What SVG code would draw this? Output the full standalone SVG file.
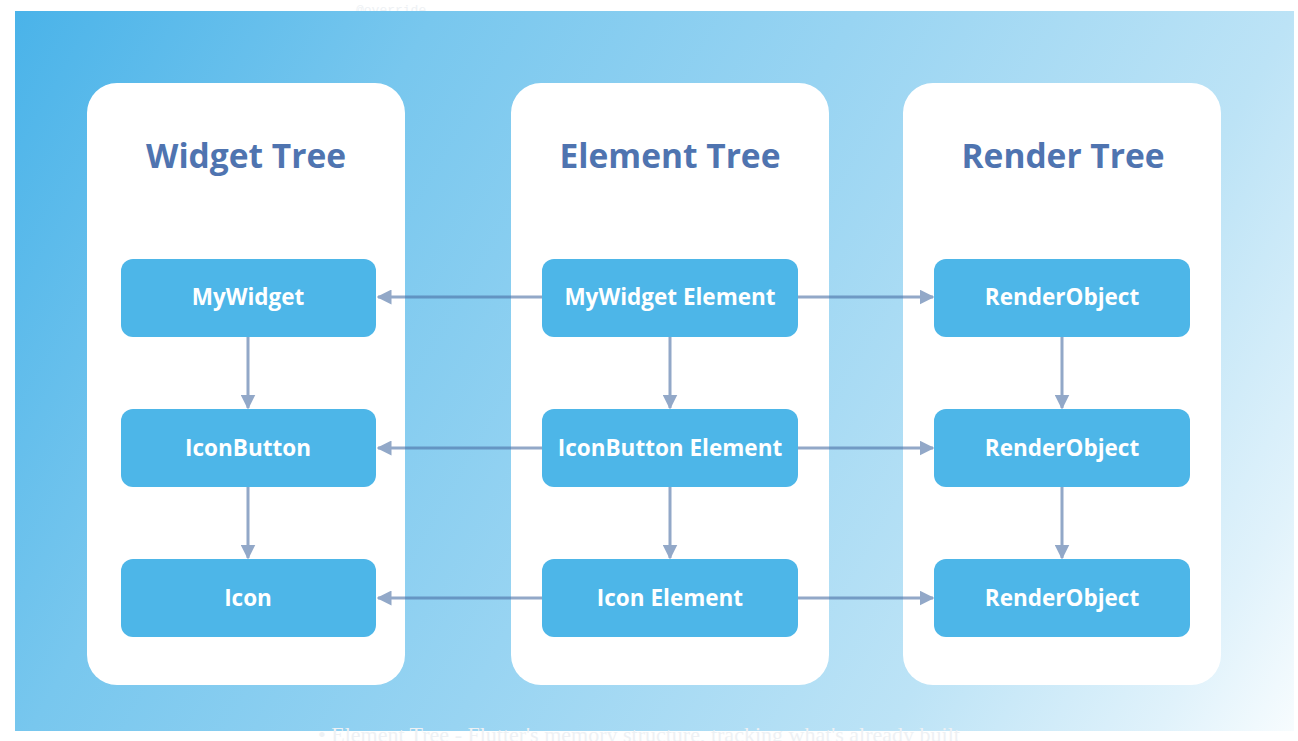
<svg xmlns="http://www.w3.org/2000/svg" width="1298" height="741" viewBox="0 0 1298 741">
  <defs>
    <linearGradient id="bg" gradientUnits="userSpaceOnUse" x1="15" y1="11" x2="1293" y2="731">
      <stop offset="0" stop-color="#4ab3e9"/>
      <stop offset="0.25" stop-color="#78c7ee"/>
      <stop offset="0.5" stop-color="#98d4f2"/>
      <stop offset="0.76" stop-color="#bce3f6"/>
      <stop offset="0.92" stop-color="#e0f2fb"/>
      <stop offset="1" stop-color="#f7fcfe"/>
    </linearGradient>
    <marker id="ah" viewBox="0 0 10 10" refX="9" refY="5" markerWidth="5" markerHeight="5" markerUnits="strokeWidth" orient="auto">
      <path d="M0,0 L10,5 L0,10 z" fill="#4a6fa5"/>
    </marker>
    <style>
      .panel { fill: #ffffff; }
      .node { fill: #4db6e8; }
      .title { font-family: "Open Sans", "Noto Sans", sans-serif; font-weight: 700; font-size: 33.5px; fill: #4f74b0; text-anchor: middle; }
      .label { font-family: "Open Sans", "Noto Sans", sans-serif; font-weight: 700; font-size: 22.5px; fill: #ffffff; text-anchor: middle; }
      .conn { stroke: #4a6fa5; stroke-width: 3; fill: none; marker-end: url(#ah); }
      .faint { fill: #eef1f4; }
    </style>
  </defs>

  <rect x="0" y="0" width="1298" height="741" fill="#ffffff"/>
  <text class="faint" x="356" y="14" font-family="Liberation Mono, monospace" font-size="13">@override</text>
  <rect x="15" y="11" width="1279" height="720" fill="url(#bg)"/>
  <text class="faint" x="318" y="742" font-family="Liberation Serif, serif" font-size="22">•  Element Tree - Flutter's memory structure, tracking what's already built</text>

  <g id="panel-widget">
    <rect class="panel" x="87" y="83" width="318" height="602" rx="30"/>
    <text class="title" x="246" y="168">Widget Tree</text>
  </g>
  <g id="panel-element">
    <rect class="panel" x="511" y="83" width="318" height="602" rx="30"/>
    <text class="title" x="670" y="168">Element Tree</text>
  </g>
  <g id="panel-render">
    <rect class="panel" x="903" y="83" width="318" height="602" rx="30"/>
    <text class="title" x="1063" y="168">Render Tree</text>
  </g>

  <g id="connectors" opacity="0.6">
    <line class="conn" x1="542" y1="297" x2="378" y2="297"/>
    <line class="conn" x1="542" y1="448" x2="378" y2="448"/>
    <line class="conn" x1="542" y1="598" x2="378" y2="598"/>
    <line class="conn" x1="798" y1="297" x2="933" y2="297"/>
    <line class="conn" x1="798" y1="448" x2="933" y2="448"/>
    <line class="conn" x1="798" y1="598" x2="933" y2="598"/>
    <line class="conn" x1="248" y1="337" x2="248" y2="408"/>
    <line class="conn" x1="248" y1="487" x2="248" y2="558"/>
    <line class="conn" x1="670" y1="337" x2="670" y2="408"/>
    <line class="conn" x1="670" y1="487" x2="670" y2="558"/>
    <line class="conn" x1="1062" y1="337" x2="1062" y2="408"/>
    <line class="conn" x1="1062" y1="487" x2="1062" y2="558"/>
  </g>

  <g id="node-mywidget">
    <rect class="node" x="121" y="259" width="255" height="78" rx="12"/>
    <text class="label" x="248" y="305">MyWidget</text>
  </g>
  <g id="node-iconbutton">
    <rect class="node" x="121" y="409" width="255" height="78" rx="12"/>
    <text class="label" x="248" y="456">IconButton</text>
  </g>
  <g id="node-icon">
    <rect class="node" x="121" y="559" width="255" height="78" rx="12"/>
    <text class="label" x="248" y="606">Icon</text>
  </g>
  <g id="node-mywidget-element">
    <rect class="node" x="542" y="259" width="256" height="78" rx="12"/>
    <text class="label" x="670" y="305">MyWidget Element</text>
  </g>
  <g id="node-iconbutton-element">
    <rect class="node" x="542" y="409" width="256" height="78" rx="12"/>
    <text class="label" x="670" y="456">IconButton Element</text>
  </g>
  <g id="node-icon-element">
    <rect class="node" x="542" y="559" width="256" height="78" rx="12"/>
    <text class="label" x="670" y="606">Icon Element</text>
  </g>
  <g id="node-renderobject-1">
    <rect class="node" x="934" y="259" width="256" height="78" rx="12"/>
    <text class="label" x="1062" y="305">RenderObject</text>
  </g>
  <g id="node-renderobject-2">
    <rect class="node" x="934" y="409" width="256" height="78" rx="12"/>
    <text class="label" x="1062" y="456">RenderObject</text>
  </g>
  <g id="node-renderobject-3">
    <rect class="node" x="934" y="559" width="256" height="78" rx="12"/>
    <text class="label" x="1062" y="606">RenderObject</text>
  </g>
</svg>
